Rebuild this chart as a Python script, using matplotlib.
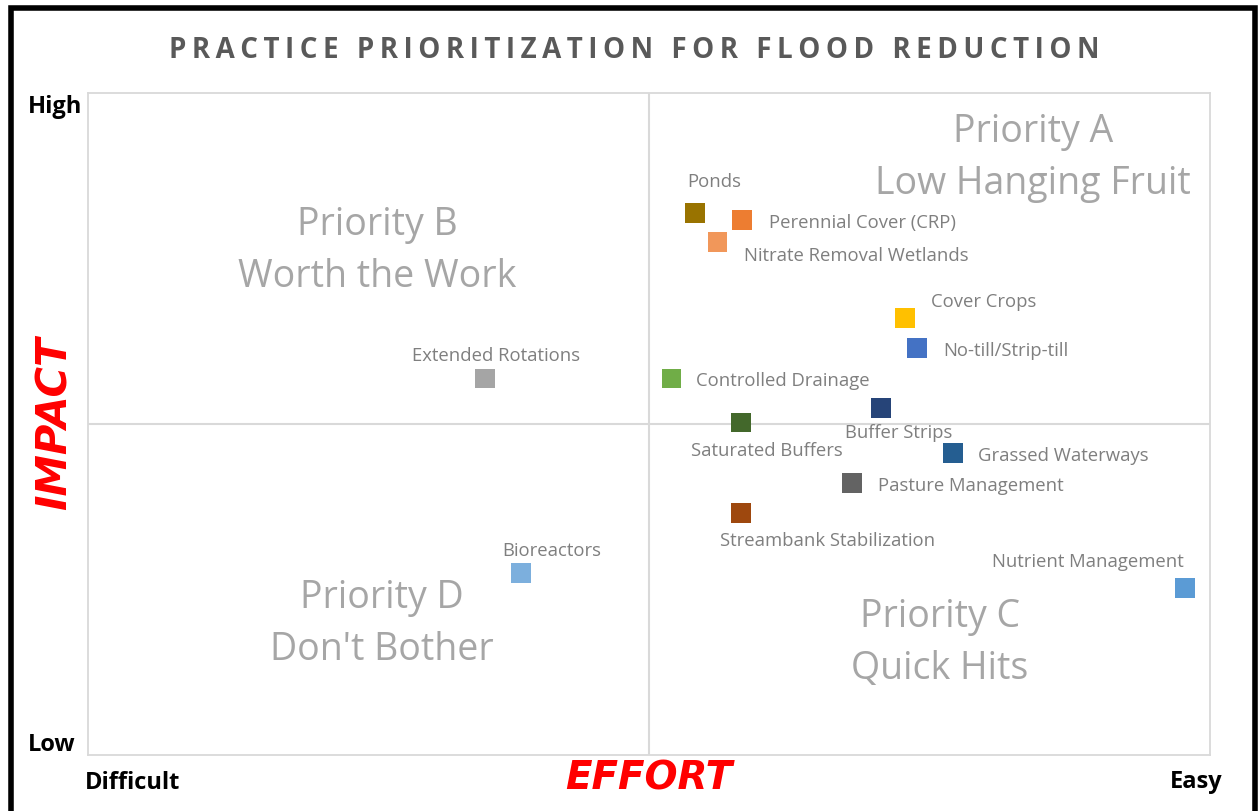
import matplotlib.pyplot as plt
from matplotlib.patches import Rectangle

# practice positions: effort (0 difficult .. 10 easy), impact (0 low .. 10 high)
practices = ['Ponds', 'Perennial Cover (CRP)', 'Nitrate Removal Wetlands', 'Cover Crops',
             'No-till/Strip-till', 'Controlled Drainage', 'Extended Rotations', 'Buffer Strips',
             'Saturated Buffers', 'Grassed Waterways', 'Pasture Management',
             'Streambank Stabilization', 'Bioreactors', 'Nutrient Management']
effort = [5.41, 5.83, 5.61, 7.28, 7.39, 5.20, 3.54, 7.07, 5.82, 7.71, 6.81, 5.82, 3.86, 9.78]
impact = [8.19, 8.08, 7.75, 6.60, 6.15, 5.69, 5.69, 5.24, 5.02, 4.56, 4.11, 3.66, 2.75, 2.52]
colors = ['#997300', '#ED7D31', '#F1975A', '#FFC000', '#4472C4', '#70AD47', '#A5A5A5',
          '#264478', '#43682B', '#255E91', '#636363', '#9E480E', '#7CAFDD', '#5B9BD5']

# label placement relative to marker: (dx px, dy px, horizontal alignment)
label_offsets = [(-8, 31, 'left'), (27, -3, 'left'), (27, -14, 'left'), (26, 16, 'left'),
                 (26, -3, 'left'), (25, -3, 'left'), (11, 22, 'center'), (17, -25, 'center'),
                 (26, -28, 'center'), (25, -3, 'left'), (26, -3, 'left'), (87, -28, 'center'),
                 (31, 22, 'center'), (-97, 26, 'center')]

quad_titles = ['Priority A', 'Priority B', 'Priority C', 'Priority D']
quad_subtitles = ['Low Hanging Fruit', 'Worth the Work', 'Quick Hits', "Don't Bother"]
quad_x = [8.42, 2.58, 7.59, 2.62]
quad_y = [9.41, 8.01, 2.09, 2.37]

W, H = 1260, 811
fig = plt.figure(figsize=(W / 100, H / 100), dpi=100)
ax = fig.add_axes([88 / W, 56 / H, 1122 / W, 662 / H])
ax.set_xlim(0, 10)
ax.set_ylim(0, 10)
ax.set_xticks([])
ax.set_yticks([])
for s in ax.spines.values():
    s.set_color('#D9D9D9')
    s.set_linewidth(1.3)
ax.axvline(5, color='#D9D9D9', lw=1.5, zorder=0)
ax.axhline(5, color='#D9D9D9', lw=1.5, zorder=0)

ax.scatter(effort, impact, s=200, marker='s', c=colors, zorder=3, linewidths=0)

font = ['Open Sans', 'DejaVu Sans']
for name, x, y, (dx, dy, ha) in zip(practices, effort, impact, label_offsets):
    ax.annotate(name, (x, y), xytext=(dx, dy), textcoords='offset pixels',
                ha=ha, va='center', fontsize=13.3, color='#7F7F7F', family=font)

for t, sub, x, y in zip(quad_titles, quad_subtitles, quad_x, quad_y):
    ax.text(x, y, t, ha='center', va='center', fontsize=27, color='#A6A6A6', family=font)
    ax.text(x, y - 0.785, sub, ha='center', va='center', fontsize=27, color='#A6A6A6',
            family=font)

# title with wide letter spacing
title = 'PRACTICE PRIORITIZATION FOR FLOOD REDUCTION'
fig.text(634 / W, 1 - 51 / H, '\u2009'.join(title), ha='center', va='center',
         fontsize=20, fontweight='bold', color='#595959', family=font)

fig.text(55 / W, 1 - 423 / H, 'IMPACT', rotation=90, ha='center', va='center',
         fontsize=30, fontweight='bold', style='italic', color='#FF0000', family='DejaVu Sans')
fig.text(649 / W, 1 - 778 / H, 'EFFORT', ha='center', va='center',
         fontsize=28, fontweight='bold', style='italic', color='#FF0000', family='DejaVu Sans')
ax_kw = dict(fontsize=17, fontweight='bold', color='black', family=font, va='center')
fig.text(55 / W, 1 - 107 / H, 'High', ha='center', **ax_kw)
fig.text(52 / W, 1 - 745 / H, 'Low', ha='center', **ax_kw)
fig.text(133 / W, 1 - 783 / H, 'Difficult', ha='center', **ax_kw)
fig.text(1196 / W, 1 - 782 / H, 'Easy', ha='center', **ax_kw)

# black frame round the whole chart (bottom edge runs off the image)
fig.patches.append(Rectangle((10.5 / W, -0.05), 1244 / W, 1.05 - 8 / H,
                             transform=fig.transFigure, fill=False, ec='black', lw=4))

fig.savefig('out.png', dpi=100)
